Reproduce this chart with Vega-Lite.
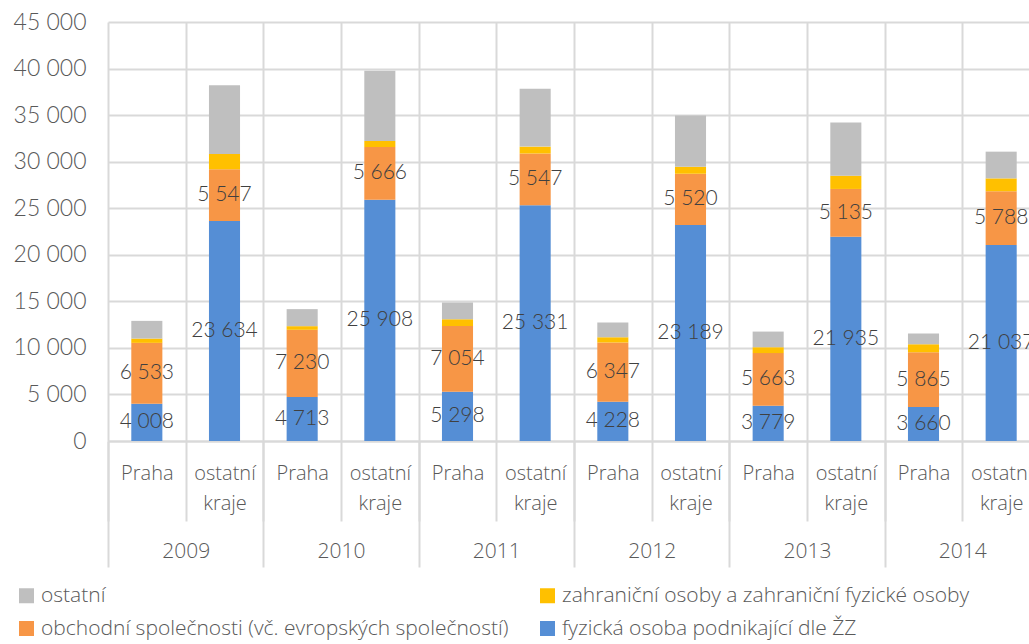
{
  "$schema": "https://vega.github.io/schema/vega-lite/v6.json",
  "autosize": {"type": "none"},
  "padding": {"left": 108, "top": 22, "right": 0, "bottom": 203},
  "width": 932,
  "height": 419,
  "background": "white",
  "config": {
    "font": "Lato",
    "locale": {"number": {"decimal": ",", "thousands": " ", "grouping": [3], "currency": ["", " Kč"]}},
    "view": {"stroke": null},
    "axis": {"labelFont": "Lato", "labelFontWeight": 300, "labelColor": "#595959", "gridColor": "#d9d9d9", "gridWidth": 2, "tickColor": "#d9d9d9", "tickWidth": 2, "domainColor": "#d9d9d9", "domainWidth": 2, "title": null},
    "legend": {"labelFont": "Open Sans", "labelFontWeight": 300}
  },
  "data": {"values": [
    {"rok": "2009", "sloupec": "2009 Praha", "skupina": "fyzická osoba podnikající dle ŽZ", "poradi": 1, "pocet": 4008},
    {"rok": "2009", "sloupec": "2009 Praha", "skupina": "obchodní společnosti (vč. evropských společností)", "poradi": 2, "pocet": 6533},
    {"rok": "2009", "sloupec": "2009 Praha", "skupina": "zahraniční osoby a zahraniční fyzické osoby", "poradi": 3, "pocet": 460},
    {"rok": "2009", "sloupec": "2009 Praha", "skupina": "ostatní", "poradi": 4, "pocet": 1900},
    {"rok": "2009", "sloupec": "2009 ostatní kraje", "skupina": "fyzická osoba podnikající dle ŽZ", "poradi": 1, "pocet": 23634},
    {"rok": "2009", "sloupec": "2009 ostatní kraje", "skupina": "obchodní společnosti (vč. evropských společností)", "poradi": 2, "pocet": 5547},
    {"rok": "2009", "sloupec": "2009 ostatní kraje", "skupina": "zahraniční osoby a zahraniční fyzické osoby", "poradi": 3, "pocet": 1650},
    {"rok": "2009", "sloupec": "2009 ostatní kraje", "skupina": "ostatní", "poradi": 4, "pocet": 7370},
    {"rok": "2010", "sloupec": "2010 Praha", "skupina": "fyzická osoba podnikající dle ŽZ", "poradi": 1, "pocet": 4713},
    {"rok": "2010", "sloupec": "2010 Praha", "skupina": "obchodní společnosti (vč. evropských společností)", "poradi": 2, "pocet": 7230},
    {"rok": "2010", "sloupec": "2010 Praha", "skupina": "zahraniční osoby a zahraniční fyzické osoby", "poradi": 3, "pocet": 390},
    {"rok": "2010", "sloupec": "2010 Praha", "skupina": "ostatní", "poradi": 4, "pocet": 1830},
    {"rok": "2010", "sloupec": "2010 ostatní kraje", "skupina": "fyzická osoba podnikající dle ŽZ", "poradi": 1, "pocet": 25908},
    {"rok": "2010", "sloupec": "2010 ostatní kraje", "skupina": "obchodní společnosti (vč. evropských společností)", "poradi": 2, "pocet": 5666},
    {"rok": "2010", "sloupec": "2010 ostatní kraje", "skupina": "zahraniční osoby a zahraniční fyzické osoby", "poradi": 3, "pocet": 650},
    {"rok": "2010", "sloupec": "2010 ostatní kraje", "skupina": "ostatní", "poradi": 4, "pocet": 7550},
    {"rok": "2011", "sloupec": "2011 Praha", "skupina": "fyzická osoba podnikající dle ŽZ", "poradi": 1, "pocet": 5298},
    {"rok": "2011", "sloupec": "2011 Praha", "skupina": "obchodní společnosti (vč. evropských společností)", "poradi": 2, "pocet": 7054},
    {"rok": "2011", "sloupec": "2011 Praha", "skupina": "zahraniční osoby a zahraniční fyzické osoby", "poradi": 3, "pocet": 730},
    {"rok": "2011", "sloupec": "2011 Praha", "skupina": "ostatní", "poradi": 4, "pocet": 1790},
    {"rok": "2011", "sloupec": "2011 ostatní kraje", "skupina": "fyzická osoba podnikající dle ŽZ", "poradi": 1, "pocet": 25331},
    {"rok": "2011", "sloupec": "2011 ostatní kraje", "skupina": "obchodní společnosti (vč. evropských společností)", "poradi": 2, "pocet": 5547},
    {"rok": "2011", "sloupec": "2011 ostatní kraje", "skupina": "zahraniční osoby a zahraniční fyzické osoby", "poradi": 3, "pocet": 740},
    {"rok": "2011", "sloupec": "2011 ostatní kraje", "skupina": "ostatní", "poradi": 4, "pocet": 6200},
    {"rok": "2012", "sloupec": "2012 Praha", "skupina": "fyzická osoba podnikající dle ŽZ", "poradi": 1, "pocet": 4228},
    {"rok": "2012", "sloupec": "2012 Praha", "skupina": "obchodní společnosti (vč. evropských společností)", "poradi": 2, "pocet": 6347},
    {"rok": "2012", "sloupec": "2012 Praha", "skupina": "zahraniční osoby a zahraniční fyzické osoby", "poradi": 3, "pocet": 580},
    {"rok": "2012", "sloupec": "2012 Praha", "skupina": "ostatní", "poradi": 4, "pocet": 1570},
    {"rok": "2012", "sloupec": "2012 ostatní kraje", "skupina": "fyzická osoba podnikající dle ŽZ", "poradi": 1, "pocet": 23189},
    {"rok": "2012", "sloupec": "2012 ostatní kraje", "skupina": "obchodní společnosti (vč. evropských společností)", "poradi": 2, "pocet": 5520},
    {"rok": "2012", "sloupec": "2012 ostatní kraje", "skupina": "zahraniční osoby a zahraniční fyzické osoby", "poradi": 3, "pocet": 750},
    {"rok": "2012", "sloupec": "2012 ostatní kraje", "skupina": "ostatní", "poradi": 4, "pocet": 5490},
    {"rok": "2013", "sloupec": "2013 Praha", "skupina": "fyzická osoba podnikající dle ŽZ", "poradi": 1, "pocet": 3779},
    {"rok": "2013", "sloupec": "2013 Praha", "skupina": "obchodní společnosti (vč. evropských společností)", "poradi": 2, "pocet": 5663},
    {"rok": "2013", "sloupec": "2013 Praha", "skupina": "zahraniční osoby a zahraniční fyzické osoby", "poradi": 3, "pocet": 630},
    {"rok": "2013", "sloupec": "2013 Praha", "skupina": "ostatní", "poradi": 4, "pocet": 1680},
    {"rok": "2013", "sloupec": "2013 ostatní kraje", "skupina": "fyzická osoba podnikající dle ŽZ", "poradi": 1, "pocet": 21935},
    {"rok": "2013", "sloupec": "2013 ostatní kraje", "skupina": "obchodní společnosti (vč. evropských společností)", "poradi": 2, "pocet": 5135},
    {"rok": "2013", "sloupec": "2013 ostatní kraje", "skupina": "zahraniční osoby a zahraniční fyzické osoby", "poradi": 3, "pocet": 1425},
    {"rok": "2013", "sloupec": "2013 ostatní kraje", "skupina": "ostatní", "poradi": 4, "pocet": 5700},
    {"rok": "2014", "sloupec": "2014 Praha", "skupina": "fyzická osoba podnikající dle ŽZ", "poradi": 1, "pocet": 3660},
    {"rok": "2014", "sloupec": "2014 Praha", "skupina": "obchodní společnosti (vč. evropských společností)", "poradi": 2, "pocet": 5865},
    {"rok": "2014", "sloupec": "2014 Praha", "skupina": "zahraniční osoby a zahraniční fyzické osoby", "poradi": 3, "pocet": 870},
    {"rok": "2014", "sloupec": "2014 Praha", "skupina": "ostatní", "poradi": 4, "pocet": 1140},
    {"rok": "2014", "sloupec": "2014 ostatní kraje", "skupina": "fyzická osoba podnikající dle ŽZ", "poradi": 1, "pocet": 21037},
    {"rok": "2014", "sloupec": "2014 ostatní kraje", "skupina": "obchodní společnosti (vč. evropských společností)", "poradi": 2, "pocet": 5788},
    {"rok": "2014", "sloupec": "2014 ostatní kraje", "skupina": "zahraniční osoby a zahraniční fyzické osoby", "poradi": 3, "pocet": 1380},
    {"rok": "2014", "sloupec": "2014 ostatní kraje", "skupina": "ostatní", "poradi": 4, "pocet": 2870}
  ]},
  "resolve": {"scale": {"x": "independent"}},
  "layer": [
    {
      "encoding": {
        "x": {"field": "sloupec", "type": "nominal", "sort": null,
          "scale": {"paddingInner": 0, "paddingOuter": 0},
          "axis": {"orient": "bottom", "tickBand": "extent", "grid": true, "tickSize": 80, "labelAngle": 0, "labelFont": "Open Sans", "labelFontSize": 20, "labelPadding": -58, "labelLineHeight": 30, "labelBaseline": "top",
            "labelExpr": "isString(datum.value) ? (indexof(datum.value, 'Praha') >= 0 ? 'Praha' : ['ostatní', 'kraje']) : ''"}}
      },
      "layer": [
        {
          "mark": {"type": "bar", "width": {"band": 0.4}},
          "encoding": {
            "y": {"field": "pocet", "type": "quantitative", "stack": "zero",
              "scale": {"domain": [0, 45000], "nice": false},
              "axis": {"values": [0, 5000, 10000, 15000, 20000, 25000, 30000, 35000, 40000, 45000], "format": ",d", "ticks": false, "domain": false, "grid": true, "labelFontSize": 23, "labelPadding": 22}},
            "order": {"field": "poradi", "type": "quantitative", "sort": "ascending"},
            "color": {"field": "skupina", "type": "nominal",
              "scale": {"domain": ["ostatní", "obchodní společnosti (vč. evropských společností)", "zahraniční osoby a zahraniční fyzické osoby", "fyzická osoba podnikající dle ŽZ"],
                "range": ["#BFBFBF", "#F79646", "#FFC000", "#558ED5"]},
              "legend": {"title": null, "orient": "none", "legendX": -92, "legendY": 563, "columns": 2, "columnPadding": 28, "rowPadding": 11, "symbolType": "square", "symbolSize": 225, "symbolStrokeWidth": 0, "symbolOpacity": 1, "labelFontSize": 21, "labelColor": "#595959", "labelOffset": 4, "labelLimit": 0}}
          }
        },
        {
          "transform": [
            {"filter": "datum.poradi <= 2"}
          ],
          "mark": {"type": "text", "fontSize": 21, "color": "#404040", "font": "Lato", "fontWeight": 300},
          "encoding": {
            "y": {"field": "pocet", "type": "quantitative", "stack": "zero", "bandPosition": 0.5},
            "order": {"field": "poradi", "type": "quantitative", "sort": "ascending"},
            "detail": {"field": "skupina"},
            "text": {"field": "pocet", "type": "quantitative", "format": ",d"}
          }
        }
      ]
    },
    {
      "mark": {"type": "tick", "opacity": 0},
      "encoding": {
        "x": {"field": "rok", "type": "nominal", "sort": null,
          "scale": {"paddingInner": 0, "paddingOuter": 0},
          "axis": {"orient": "bottom", "tickBand": "extent", "grid": false, "domain": false, "tickSize": 126, "labelAngle": 0, "labelFont": "Open Sans", "labelFontSize": 21, "labelPadding": -27, "labelBaseline": "top"}}
      }
    }
  ]
}
